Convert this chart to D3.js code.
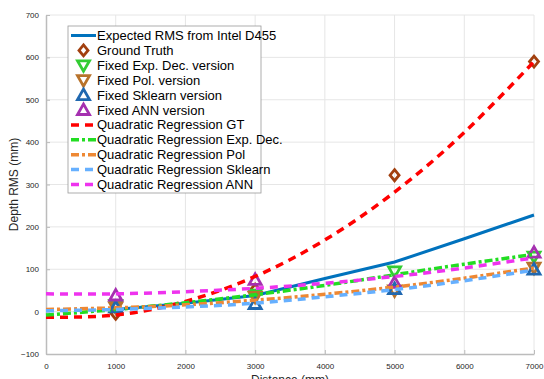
<!DOCTYPE html>
<html>
<head>
<meta charset="utf-8">
<script src="https://cdn.jsdelivr.net/npm/d3@7"></script>
<style>
  body { margin: 0; background: #fff; }
  svg { font-family: "Liberation Sans", Arial, sans-serif; }
  .tick text { fill: #262626; font-size: 8px; }
  .axis path, .axis line { stroke: #bcbcbc; }
</style>
</head>
<body>
<div id="chart-area"></div>
<script>
// data
var distances = [1000, 3000, 5000, 7000];
var fitDistances = [0, 1000, 2000, 3000, 4000, 5000, 6000, 7000];
var expectedDist = [1000, 2000, 3000, 4000, 5000, 6000, 7000];
var expectedRms = [5, 20, 38, 78, 117, 172, 228];

var groundTruth = [-5, 52, 322, 590];
var fixedExp = [15, 40, 95, 130];
var fixedPol = [10, 35, 50, 104];
var fixedSklearn = [10, 18, 53, 99];
var fixedAnn = [38, 75, 68, 139];

var fitGT = [-13, -8, 24, 83, 169, 282, 423, 590];
var fitExp = [-8, 5, 21, 40, 62, 87, 112, 135];
var fitPol = [5, 9, 16, 27, 41, 58, 79, 103];
var fitSklearn = [2, 5, 11, 20, 35, 52, 73, 98];
var fitAnn = [42, 42, 47, 55, 67, 83, 103, 127];

var xTicks = [0, 1000, 2000, 3000, 4000, 5000, 6000, 7000];
var yTicks = [-100, 0, 100, 200, 300, 400, 500, 600, 700];

var margin = { left: 46, right: 10, top: 15, bottom: 25 };
var W = 544, H = 379;
var width = 534 - margin.left;
var height = 354 - margin.top;

var svg = d3.select('#chart-area').append('svg')
	.attr('width', W)
	.attr('height', H);

var g = svg.append('g')
	.attr('transform', `translate(${margin.left}, ${margin.top})`);

var x = d3.scaleLinear().domain([0, 7000]).range([0, width]);
var y = d3.scaleLinear().domain([-100, 700]).range([height, 0]);

// grid
g.append('g').selectAll('line').data(xTicks.slice(1)).enter().append('line')
	.attr('x1', d => x(d)).attr('x2', d => x(d))
	.attr('y1', 0).attr('y2', height)
	.attr('stroke', '#e6e6e6');
g.append('g').selectAll('line').data(yTicks.slice(1)).enter().append('line')
	.attr('x1', 0).attr('x2', width)
	.attr('y1', d => y(d)).attr('y2', d => y(d))
	.attr('stroke', '#e6e6e6');

g.append('g')
	.attr('class', 'axis')
	.attr('transform', `translate(0, ${height})`)
	.call(d3.axisBottom(x).tickValues(xTicks).tickSize(-4).tickPadding(9).tickSizeOuter(0).tickFormat(d3.format('d')));
g.append('g')
	.attr('class', 'axis')
	.call(d3.axisLeft(y).tickValues(yTicks).tickSize(-4).tickPadding(7).tickSizeOuter(0));
g.selectAll('.axis path').attr('stroke-width', 1.5);

g.append('text')
	.attr('x', width / 2).attr('y', height + 30)
	.attr('text-anchor', 'middle').attr('font-size', '12px').attr('fill', '#262626')
	.text('Distance (mm)');
g.append('text')
	.attr('transform', 'rotate(-90)')
	.attr('x', -height / 2).attr('y', -28)
	.attr('text-anchor', 'middle').attr('font-size', '12px').attr('fill', '#262626')
	.text('Depth RMS (mm)');

var line = d3.line().x(d => x(d[0])).y(d => y(d[1]));
var curve = d3.line().curve(d3.curveNatural).x(d => x(d[0])).y(d => y(d[1]));

// expected line
g.append('path')
	.datum(expectedDist.map((d, i) => [d, expectedRms[i]]))
	.attr('d', line)
	.attr('fill', 'none').attr('stroke', '#0072BD').attr('stroke-width', 3);

var markerSets = [
	{ name: 'Ground Truth', vals: groundTruth, shape: 'diamond', color: '#A2400F' },
	{ name: 'Fixed Exp. Dec. version', vals: fixedExp, shape: 'down', color: '#33CC33' },
	{ name: 'Fixed Pol. version', vals: fixedPol, shape: 'down', color: '#B8732C' },
	{ name: 'Fixed Sklearn version', vals: fixedSklearn, shape: 'up', color: '#2068B0' },
	{ name: 'Fixed ANN version', vals: fixedAnn, shape: 'up', color: '#A530B0' }
];

function markerPath(shape) {
	if (shape == 'diamond') return 'M0,-5.5L4.5,0L0,5.5L-4.5,0Z';
	if (shape == 'down') return 'M-6,-4.5L6,-4.5L0,6Z';
	return 'M-6,4.5L6,4.5L0,-6Z';
}

function drawMarker(sel, m) {
	sel.append('path')
		.attr('d', markerPath(m.shape))
		.attr('fill', 'none')
		.attr('stroke', m.color)
		.attr('stroke-width', 2.8)
		.attr('stroke-linejoin', 'miter');
}

markerSets.forEach(m => {
	m.vals.forEach((v, i) => {
		var mg = g.append('g').attr('transform', `translate(${x(distances[i])}, ${y(v)})`);
		drawMarker(mg, m);
	});
});

var fits = [
	{ name: 'Quadratic Regression GT', vals: fitGT, color: '#FF0000', dash: '8,6' },
	{ name: 'Quadratic Regression Exp. Dec.', vals: fitExp, color: '#22DD22', dash: '8,3,3,3' },
	{ name: 'Quadratic Regression Pol', vals: fitPol, color: '#EE8833', dash: '8,3,3,3' },
	{ name: 'Quadratic Regression Sklearn', vals: fitSklearn, color: '#66B0FF', dash: '8,6' },
	{ name: 'Quadratic Regression ANN', vals: fitAnn, color: '#EE33EE', dash: '8,6' }
];

fits.forEach(f => {
	g.append('path')
		.datum(fitDistances.map((d, i) => [d, f.vals[i]]))
		.attr('d', curve)
		.attr('fill', 'none')
		.attr('stroke', f.color)
		.attr('stroke-width', 3.5)
		.attr('stroke-dasharray', f.dash);
});

// legend
var legend = svg.append('g').attr('transform', 'translate(68, 26)');
legend.append('rect')
	.attr('width', 193).attr('height', 167)
	.attr('fill', '#fff').attr('stroke', '#9a9a9a').attr('stroke-width', 0.8);

var rows = [{ name: 'Expected RMS from Intel D455', type: 'solid', color: '#0072BD' }]
	.concat(markerSets.map(m => Object.assign({ type: 'marker' }, m)))
	.concat(fits.map(f => Object.assign({ type: 'dash' }, f)));

rows.forEach((r, i) => {
	var row = legend.append('g').attr('transform', `translate(0, ${9.5 + i * 14.9})`);
	if (r.type == 'solid') {
		row.append('line').attr('x1', 3).attr('x2', 28).attr('stroke', r.color).attr('stroke-width', 3);
	} else if (r.type == 'marker') {
		var mg = row.append('g').attr('transform', 'translate(15.5, 0)');
		drawMarker(mg, r);
	} else {
		row.append('line').attr('x1', 3).attr('x2', 28).attr('stroke', r.color)
			.attr('stroke-width', 3.5).attr('stroke-dasharray', r.dash);
	}
	row.append('text')
		.attr('x', 29).attr('y', 4.5)
		.attr('font-size', '13px').attr('fill', '#000')
		.text(r.name);
});
</script>
</body>
</html>
